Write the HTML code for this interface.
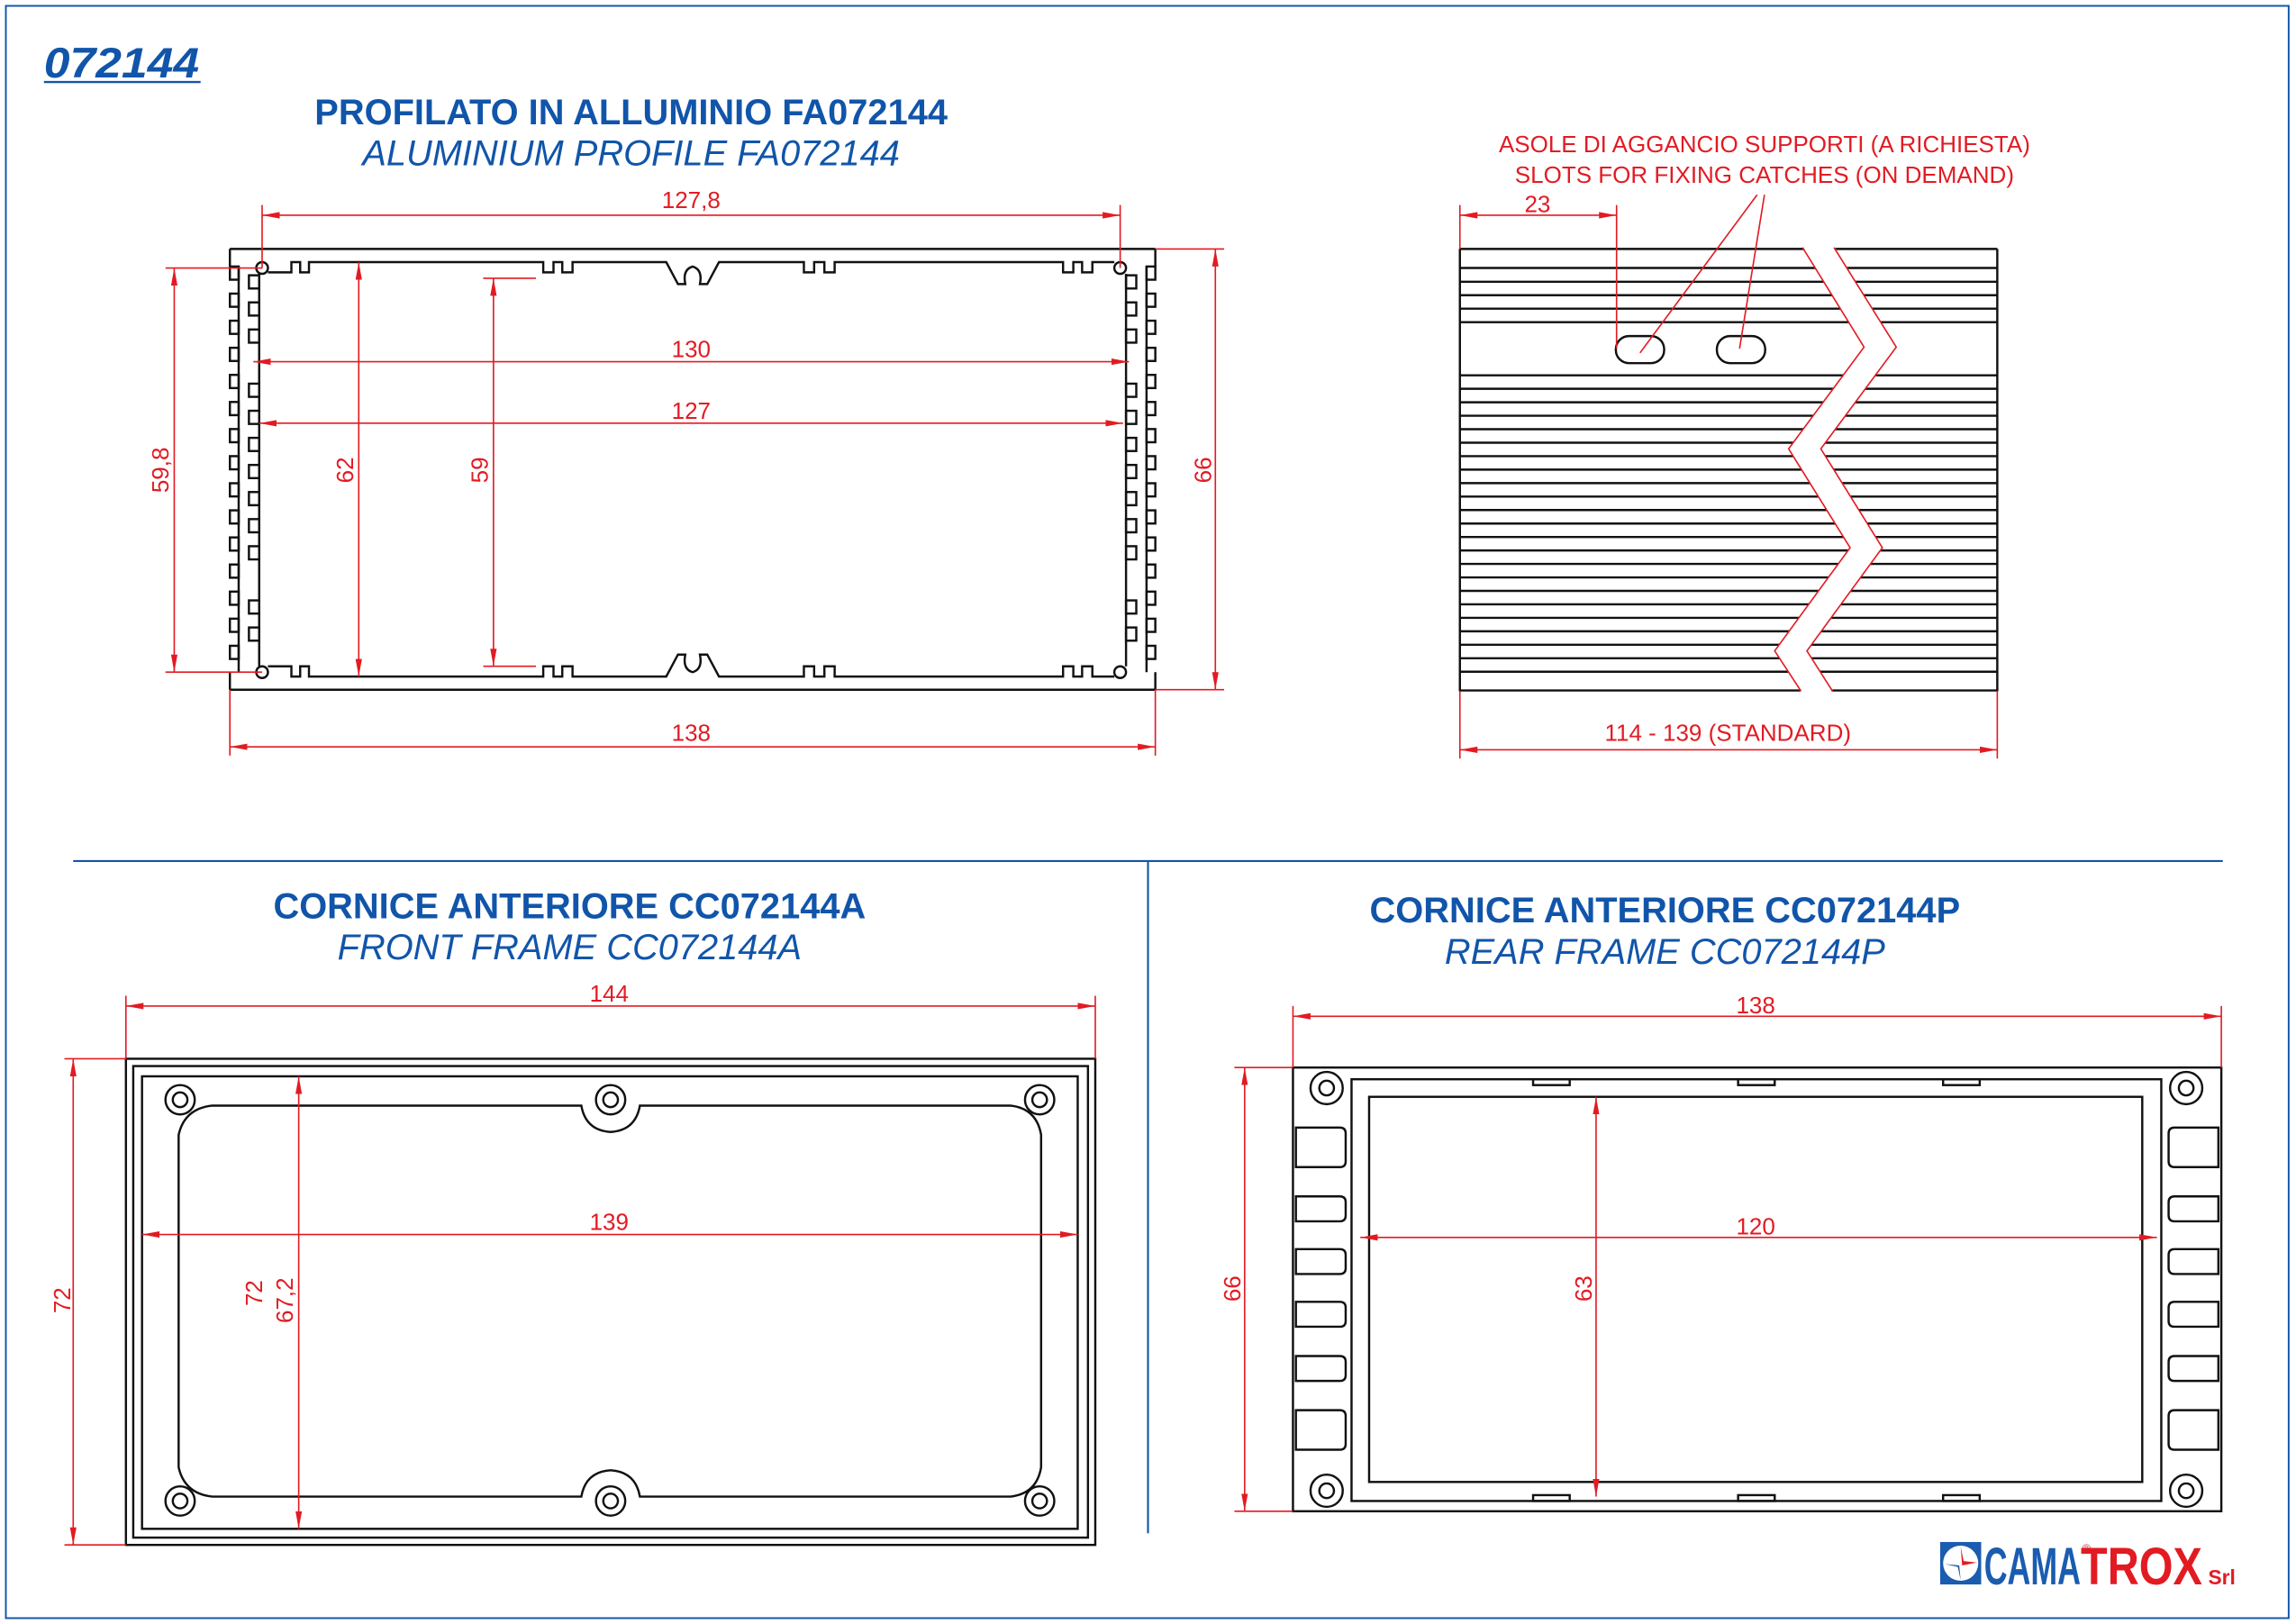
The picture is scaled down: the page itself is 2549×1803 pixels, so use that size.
<!DOCTYPE html>
<html><head><meta charset="utf-8"><style>
html,body{margin:0;padding:0;background:#fff;}
svg{display:block;}
text{font-family:"Liberation Sans",Arial,sans-serif;}
.bl{fill:none;stroke:#111;stroke-width:1.5;}
.rd{stroke:#e21b23;stroke-width:1;fill:none;}
.dt{fill:#e21b23;font-size:16px;text-anchor:middle;}
.t1{fill:#1155aa;font-size:24.5px;font-weight:bold;text-anchor:middle;}
.t2{fill:#1155aa;font-size:24.5px;font-style:italic;text-anchor:middle;}
</style></head><body>
<svg width="2549" height="1803" viewBox="0 0 1568 1109" preserveAspectRatio="none" xmlns="http://www.w3.org/2000/svg" xmlns:xlink="http://www.w3.org/1999/xlink">
<defs>
<marker id="a" viewBox="0 0 12 6" refX="12" refY="3" markerWidth="12" markerHeight="6" markerUnits="userSpaceOnUse" orient="auto-start-reverse"><path d="M12,3 L0,0.8 L0,5.2 Z" fill="#e21b23"/></marker>
</defs>
<rect x="4" y="4" width="1559" height="1101" fill="none" stroke="#1155aa" stroke-width="1.2"/>
<text x="30" y="53" fill="#1155aa" font-size="29" font-weight="bold" font-style="italic" textLength="106" lengthAdjust="spacingAndGlyphs">072144</text>
<line x1="30" y1="56" x2="137" y2="56" stroke="#1155aa" stroke-width="1.5"/>

<text class="t1" x="431" y="85">PROFILATO IN ALLUMINIO FA072144</text>
<text class="t2" x="431" y="113">ALUMINIUM PROFILE FA072144</text>

<!-- profile -->
<g class="bl">
<line x1="157" y1="170" x2="789" y2="170"/>
<line x1="157" y1="471" x2="789" y2="471"/>
<g id="lc">
<line x1="157" y1="170" x2="157" y2="182"/>
<line x1="157" y1="459" x2="157" y2="471"/>
<line x1="163" y1="182" x2="163" y2="459"/>
<rect x="157" y="182" width="6" height="9"/><rect x="157" y="200.5" width="6" height="9"/><rect x="157" y="219" width="6" height="9"/><rect x="157" y="237.5" width="6" height="9"/><rect x="157" y="256" width="6" height="9"/><rect x="157" y="274.5" width="6" height="9"/><rect x="157" y="293" width="6" height="9"/><rect x="157" y="311.5" width="6" height="9"/><rect x="157" y="330" width="6" height="9"/><rect x="157" y="348.5" width="6" height="9"/><rect x="157" y="367" width="6" height="9"/><rect x="157" y="385.5" width="6" height="9"/><rect x="157" y="404" width="6" height="9"/><rect x="157" y="422.5" width="6" height="9"/><rect x="157" y="441" width="6" height="9"/>
<line x1="177" y1="187" x2="177" y2="455"/>
<rect x="170" y="188" width="7" height="9"/><rect x="170" y="206.5" width="7" height="9"/><rect x="170" y="225" width="7" height="9"/><rect x="170" y="262" width="7" height="9"/><rect x="170" y="280.5" width="7" height="9"/><rect x="170" y="299" width="7" height="9"/><rect x="170" y="317.5" width="7" height="9"/><rect x="170" y="336" width="7" height="9"/><rect x="170" y="354.5" width="7" height="9"/><rect x="170" y="373" width="7" height="9"/><rect x="170" y="410" width="7" height="9"/><rect x="170" y="428.5" width="7" height="9"/>
</g>
<use xlink:href="#lc" href="#lc" transform="translate(946,0) scale(-1,1)"/>
<path d="M183,186 L199,186 L199,179 L205,179 L205,186 L211,186 L211,179 L371,179 L371,186 L378,186 L378,179 L384,179 L384,186 L391,186 L391,179 L455,179 L463,194 L468,194 Q466,184 473,182 Q480,184 478,194 L483,194 L491,179 L549,179 L549,186 L556,186 L556,179 L563,179 L563,186 L570,186 L570,179 L726,179 L726,186 L733,186 L733,179 L739,179 L739,186 L746,186 L746,179 L761,179"/>
<path d="M183,455 L199,455 L199,462 L205,462 L205,455 L211,455 L211,462 L371,462 L371,455 L378,455 L378,462 L384,462 L384,455 L391,455 L391,462 L455,462 L463,447 L468,447 Q466,457 473,459 Q480,457 478,447 L483,447 L491,462 L549,462 L549,455 L556,455 L556,462 L563,462 L563,455 L570,455 L570,462 L726,462 L726,455 L733,455 L733,462 L739,462 L739,455 L746,455 L746,462 L761,462"/>
<circle cx="179" cy="183" r="4"/><circle cx="765" cy="183" r="4"/>
<circle cx="179" cy="459" r="4"/><circle cx="765" cy="459" r="4"/>
</g>
<!-- profile dims -->
<g class="rd">
<line x1="179" y1="140" x2="179" y2="183"/><line x1="765" y1="140" x2="765" y2="183"/>
<line x1="179" y1="147" x2="765" y2="147" marker-start="url(#a)" marker-end="url(#a)"/>
<line x1="173" y1="247" x2="771" y2="247" marker-start="url(#a)" marker-end="url(#a)"/>
<line x1="177" y1="289" x2="767" y2="289" marker-start="url(#a)" marker-end="url(#a)"/>
<line x1="113" y1="183" x2="179" y2="183"/><line x1="113" y1="459" x2="179" y2="459"/>
<line x1="119" y1="183" x2="119" y2="459" marker-start="url(#a)" marker-end="url(#a)"/>
<line x1="245" y1="179" x2="245" y2="462" marker-start="url(#a)" marker-end="url(#a)"/>
<line x1="330" y1="190" x2="366" y2="190"/><line x1="330" y1="455" x2="366" y2="455"/>
<line x1="337" y1="190" x2="337" y2="455" marker-start="url(#a)" marker-end="url(#a)"/>
<line x1="789" y1="170" x2="836" y2="170"/><line x1="789" y1="471" x2="836" y2="471"/>
<line x1="830" y1="170" x2="830" y2="471" marker-start="url(#a)" marker-end="url(#a)"/>
<line x1="157" y1="471" x2="157" y2="516"/><line x1="789" y1="471" x2="789" y2="516"/>
<line x1="157" y1="510" x2="789" y2="510" marker-start="url(#a)" marker-end="url(#a)"/>
</g>
<text class="dt" x="472" y="142">127,8</text>
<text class="dt" x="472" y="244">130</text>
<text class="dt" x="472" y="286">127</text>
<text class="dt" x="472" y="506">138</text>
<text class="dt" transform="translate(115,321) rotate(-90)">59,8</text>
<text class="dt" transform="translate(241,321) rotate(-90)">62</text>
<text class="dt" transform="translate(333,321) rotate(-90)">59</text>
<text class="dt" transform="translate(827,321) rotate(-90)">66</text>

<!-- side view -->
<text class="dt" x="1205" y="104">ASOLE DI AGGANCIO SUPPORTI (A RICHIESTA)</text>
<text class="dt" x="1205" y="125">SLOTS FOR FIXING CATCHES (ON DEMAND)</text>
<g class="bl">
<line x1="997" y1="170" x2="997" y2="472"/><line x1="1364" y1="170" x2="1364" y2="472"/>
<path d="M997,170 H1364 M997,183 H1364 M997,192.4 H1364 M997,201.6 H1364 M997,210.8 H1364 M997,220 H1364 M997,256.3 H1364 M997,265.5 H1364 M997,274.7 H1364 M997,283.9 H1364 M997,293.1 H1364 M997,302.3 H1364 M997,311.5 H1364 M997,320.7 H1364 M997,329.9 H1364 M997,339.1 H1364 M997,348.3 H1364 M997,357.5 H1364 M997,366.7 H1364 M997,375.9 H1364 M997,385.1 H1364 M997,394.3 H1364 M997,403.5 H1364 M997,412.7 H1364 M997,421.9 H1364 M997,431.1 H1364 M997,440.3 H1364 M997,449.5 H1364 M997,458.7 H1364 M997,471.5 H1364"/>
</g>
<path d="M1231,168 L1273,237 L1221.5,306.5 L1263.5,374 L1212,444.5 L1230,473 L1251.5,473 L1234,444.5 L1285.5,374 L1243.5,306.5 L1295,237 L1252.5,168 Z" fill="#fff"/>
<path class="rd" d="M1231,169 L1273,237 L1221.5,306.5 L1263.5,374 L1212,444.5 L1230,472 M1252.5,169 L1295,237 L1243.5,306.5 L1285.5,374 L1234,444.5 L1251.5,472"/>
<g class="bl">
<rect x="1103.5" y="229.5" width="33" height="18.5" rx="9" fill="#fff"/>
<rect x="1172.5" y="229.5" width="33" height="18.5" rx="9" fill="#fff"/>
</g>
<g class="rd">
<line x1="1120" y1="241" x2="1200" y2="133"/>
<line x1="1188" y1="238" x2="1205" y2="133"/>
<line x1="1104" y1="140" x2="1104" y2="238"/>
<line x1="997" y1="140" x2="997" y2="170"/>
<line x1="997" y1="147" x2="1104" y2="147" marker-start="url(#a)" marker-end="url(#a)"/>
<line x1="997" y1="472" x2="997" y2="518"/><line x1="1364" y1="472" x2="1364" y2="518"/>
<line x1="997" y1="512" x2="1364" y2="512" marker-start="url(#a)" marker-end="url(#a)"/>
</g>
<text class="dt" x="1050" y="145">23</text>
<text class="dt" x="1180" y="506">114 - 139  (STANDARD)</text>

<!-- dividers -->
<line x1="50" y1="588" x2="1518" y2="588" stroke="#1155aa" stroke-width="1.3"/>
<line x1="784" y1="588" x2="784" y2="1047" stroke="#1155aa" stroke-width="1.3"/>

<!-- front frame -->
<text class="t1" x="389" y="627">CORNICE ANTERIORE CC072144A</text>
<text class="t2" x="389" y="655">FRONT FRAME CC072144A</text>
<g class="bl">
<rect x="86" y="723" width="662" height="332"/>
<rect x="91" y="728" width="652" height="322"/>
<rect x="97" y="735" width="639" height="309"/>
<path d="M122,775 Q126,757 145,755 L397,755 Q400,772 417,773 Q434,772 437,755 L690,755 Q708,757 711,775 L711,1002 Q708,1020 690,1022 L437,1022 Q434,1005 417,1004 Q400,1005 397,1022 L145,1022 Q126,1020 122,1002 Z"/>
<circle cx="123" cy="751" r="10"/><circle cx="123" cy="751" r="5"/>
<circle cx="417" cy="751" r="10"/><circle cx="417" cy="751" r="5"/>
<circle cx="710" cy="751" r="10"/><circle cx="710" cy="751" r="5"/>
<circle cx="123" cy="1025" r="10"/><circle cx="123" cy="1025" r="5"/>
<circle cx="417" cy="1025" r="10"/><circle cx="417" cy="1025" r="5"/>
<circle cx="710" cy="1025" r="10"/><circle cx="710" cy="1025" r="5"/>
</g>
<g class="rd">
<line x1="86" y1="680" x2="86" y2="723"/><line x1="748" y1="680" x2="748" y2="723"/>
<line x1="86" y1="687" x2="748" y2="687" marker-start="url(#a)" marker-end="url(#a)"/>
<line x1="44" y1="723" x2="86" y2="723"/><line x1="44" y1="1055" x2="86" y2="1055"/>
<line x1="50" y1="723" x2="50" y2="1055" marker-start="url(#a)" marker-end="url(#a)"/>
<line x1="204" y1="735" x2="204" y2="1044" marker-start="url(#a)" marker-end="url(#a)"/>
<line x1="97" y1="843" x2="736" y2="843" marker-start="url(#a)" marker-end="url(#a)"/>
</g>
<text class="dt" x="416" y="684">144</text>
<text class="dt" x="416" y="840">139</text>
<text class="dt" transform="translate(48,888) rotate(-90)">72</text>
<text class="dt" transform="translate(179,883) rotate(-90)">72</text>
<text class="dt" transform="translate(200,888) rotate(-90)">67,2</text>

<!-- rear frame -->
<text class="t1" x="1137" y="630">CORNICE ANTERIORE CC072144P</text>
<text class="t2" x="1137" y="658">REAR FRAME CC072144P</text>
<g class="bl">
<rect x="883" y="729" width="634" height="303"/>
<rect x="923" y="737" width="553" height="288"/>
<rect x="935" y="749" width="528" height="263"/>
<rect x="1047" y="737" width="25" height="4"/><rect x="1187" y="737" width="25" height="4"/><rect x="1327" y="737" width="25" height="4"/>
<rect x="1047" y="1021" width="25" height="4"/><rect x="1187" y="1021" width="25" height="4"/><rect x="1327" y="1021" width="25" height="4"/>
<circle cx="906" cy="743" r="11"/><circle cx="906" cy="743" r="5"/>
<circle cx="1493" cy="743" r="11"/><circle cx="1493" cy="743" r="5"/>
<circle cx="906" cy="1018" r="11"/><circle cx="906" cy="1018" r="5"/>
<circle cx="1493" cy="1018" r="11"/><circle cx="1493" cy="1018" r="5"/>
<path d="M885,770 H915 Q919,770 919,774 V793 Q919,797 915,797 H885 Z M885,817 H915 Q919,817 919,821 V830 Q919,834 915,834 H885 Z M885,853 H915 Q919,853 919,857 V866 Q919,870 915,870 H885 Z M885,889 H915 Q919,889 919,893 V902 Q919,906 915,906 H885 Z M885,926 H915 Q919,926 919,930 V939 Q919,943 915,943 H885 Z M885,963 H915 Q919,963 919,967 V986 Q919,990 915,990 H885 Z"/>
<path d="M1515,770 H1485 Q1481,770 1481,774 V793 Q1481,797 1485,797 H1515 Z M1515,817 H1485 Q1481,817 1481,821 V830 Q1481,834 1485,834 H1515 Z M1515,853 H1485 Q1481,853 1481,857 V866 Q1481,870 1485,870 H1515 Z M1515,889 H1485 Q1481,889 1481,893 V902 Q1481,906 1485,906 H1515 Z M1515,926 H1485 Q1481,926 1481,930 V939 Q1481,943 1485,943 H1515 Z M1515,963 H1485 Q1481,963 1481,967 V986 Q1481,990 1485,990 H1515 Z"/>
</g>
<g class="rd">
<line x1="883" y1="687" x2="883" y2="729"/><line x1="1517" y1="687" x2="1517" y2="729"/>
<line x1="883" y1="694" x2="1517" y2="694" marker-start="url(#a)" marker-end="url(#a)"/>
<line x1="843" y1="729" x2="883" y2="729"/><line x1="843" y1="1032" x2="883" y2="1032"/>
<line x1="850" y1="729" x2="850" y2="1032" marker-start="url(#a)" marker-end="url(#a)"/>
<line x1="1090" y1="749" x2="1090" y2="1022" marker-start="url(#a)" marker-end="url(#a)"/>
<line x1="929" y1="845" x2="1473" y2="845" marker-start="url(#a)" marker-end="url(#a)"/>
</g>
<text class="dt" x="1199" y="692">138</text>
<text class="dt" x="1199" y="843">120</text>
<text class="dt" transform="translate(847,880) rotate(-90)">66</text>
<text class="dt" transform="translate(1087,880) rotate(-90)">63</text>

<!-- logo -->
<rect x="1325" y="1053" width="28" height="29" fill="#1a5cb0"/>
<circle cx="1339" cy="1067.5" r="12" fill="#fff"/>
<path d="M1339,1056 L1341,1066 L1350,1067 L1340,1069 Z" fill="#e21b23"/>
<path d="M1328,1068 L1338,1069 L1339,1079 L1337,1070 Z" fill="#1a5cb0"/>
<text x="1355" y="1082" font-size="36" font-weight="bold" fill="#1a5cb0" textLength="66" lengthAdjust="spacingAndGlyphs">CAMA</text>
<text x="1421" y="1082" font-size="36" font-weight="bold" fill="#e21b23" textLength="83" lengthAdjust="spacingAndGlyphs">TROX</text>
<text x="1508" y="1082" font-size="14" font-weight="bold" fill="#e21b23">Srl</text>
<text x="1422" y="1060" font-size="8" fill="#e21b23">®</text>
</svg>
</body></html>
